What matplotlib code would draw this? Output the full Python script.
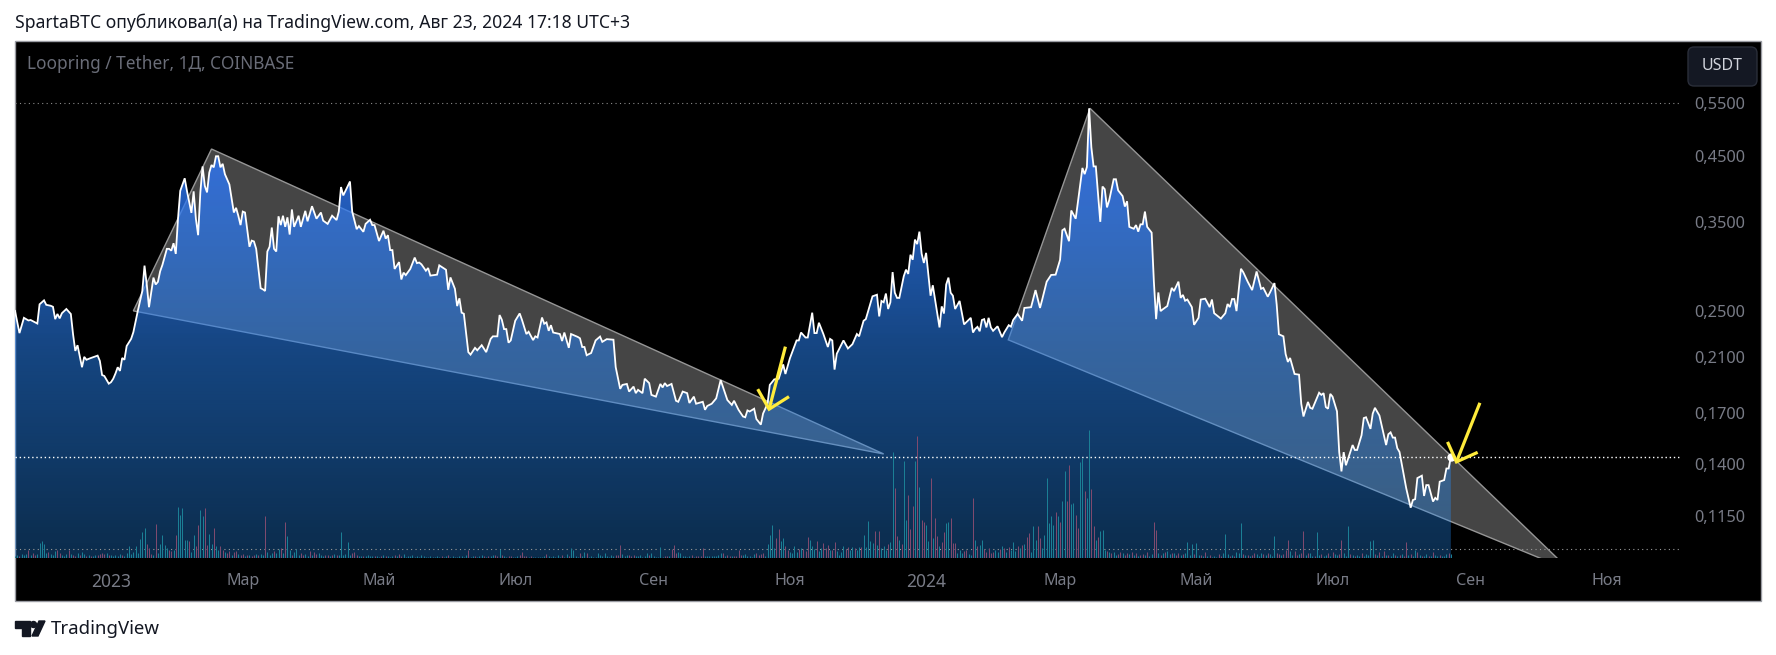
"""Loopring / Tether daily chart, TradingView style, log price scale."""
import numpy as np
import matplotlib
matplotlib.use("Agg")
import matplotlib.pyplot as plt
from matplotlib.colors import LinearSegmentedColormap
from matplotlib.patches import Rectangle, Polygon, FancyBboxPatch, Circle

W, H = 1776, 655
plt.rcParams["font.family"] = ["Noto Sans", "DejaVu Sans"]

# days counted from 2023-01-01, closes in USDT
days = [
    -43, -41, -39, -37, -36, -33, -32, -30, -29, -27, -26, -25, -24, -23, -22, -20, -18, -17, -16, -15,
    -13, -12, -11, -9, -6, -5, -4, -3, -1, 0, 1, 2, 3, 4, 5, 6, 7, 9, 10, 12,
    14, 15, 16, 17, 19, 20, 21, 22, 23, 25, 26, 27, 28, 29, 30, 31, 33, 34, 36, 37,
    38, 39, 40, 41, 42, 43, 44, 45, 46, 47, 48, 49, 50, 51, 53, 55, 56, 57, 58, 59,
    60, 62, 63, 64, 65, 67, 68, 69, 70, 71, 72, 73, 74, 75, 76, 77, 78, 79, 80, 81,
    82, 84, 85, 87, 88, 90, 92, 94, 95, 97, 99, 101, 102, 103, 104, 107, 108, 110, 111, 113,
    114, 116, 117, 118, 120, 122, 123, 124, 125, 126, 127, 129, 130, 131, 132, 134, 136, 137, 138, 139,
    141, 142, 143, 146, 147, 150, 151, 152, 154, 155, 156, 157, 158, 160, 161, 163, 164, 166, 168, 170,
    171, 173, 174, 175, 176, 177, 178, 179, 181, 183, 184, 186, 187, 189, 190, 191, 193, 194, 195, 196,
    197, 198, 201, 202, 203, 205, 206, 209, 210, 211, 212, 213, 215, 217, 219, 220, 222, 225, 226, 228,
    229, 231, 232, 234, 235, 236, 238, 239, 241, 242, 244, 246, 247, 248, 249, 251, 253, 254, 255, 256,
    258, 259, 261, 262, 265, 266, 267, 269, 271, 273, 275, 276, 278, 279, 281, 283, 284, 285, 286, 288,
    289, 291, 292, 294, 295, 297, 299, 301, 302, 304, 307, 308, 309, 311, 312, 313, 314, 315, 316, 317,
    319, 321, 322, 323, 324, 325, 328, 330, 332, 334, 335, 337, 338, 341, 343, 344, 345, 346, 347, 348,
    349, 350, 351, 352, 353, 355, 356, 357, 358, 359, 360, 361, 362, 363, 364, 365, 366, 367, 368, 369,
    371, 372, 373, 374, 375, 376, 377, 378, 380, 382, 385, 386, 387, 388, 389, 390, 391, 392, 393, 394,
    395, 397, 399, 400, 402, 403, 404, 406, 408, 409, 412, 414, 416, 417, 419, 421, 423, 425, 426, 427,
    429, 430, 432, 435, 436, 437, 438, 439, 440, 441, 443, 444, 445, 446, 447, 449, 450, 451, 453, 454,
    455, 456, 458, 459, 460, 461, 462, 463, 464, 466, 467, 468, 469, 470, 471, 473, 475, 476, 478, 479,
    480, 481, 482, 484, 485, 487, 488, 490, 492, 493, 494, 497, 499, 500, 501, 502, 503, 504, 506, 507,
    509, 511, 513, 515, 516, 518, 519, 521, 522, 523, 525, 526, 527, 528, 530, 532, 533, 534, 536, 537,
    538, 541, 542, 543, 544, 545, 546, 547, 549, 550, 551, 552, 553, 556, 557, 558, 560, 561, 562, 564,
    565, 566, 568, 571, 572, 573, 574, 575, 576, 577, 580, 582, 583, 584, 585, 587, 588, 589, 590, 592,
    593, 594, 595, 597, 598, 599, 600,
]
prices = [
    .2502, .2300, .2437, .2413, .2417, .2385, .2565, .2604, .2560, .2551, .2541, .2425, .2473, .2432, .2480, .2520, .2473, .2290, .2150, .2197,
    .2021, .2102, .2079, .2093, .2112, .2070, .1962, .1955, .1899, .1910, .1935, .1974, .2021, .1993, .2093, .2079, .2190, .2250, .2308, .2502,
    .2697, .2970, .2765, .2537, .2838, .2765, .2793, .2907, .2977, .3165, .3165, .3143, .3233, .3105, .3548, .3943, .4135, .3943, .3627, .3935,
    .3548, .3333, .3920, .4325, .4017, .3920, .4226, .4348, .4310, .4495, .4495, .4310, .4368, .4200, .4040, .3632, .3697, .3588, .3463, .3645,
    .3632, .3190, .3265, .3255, .3165, .2727, .2715, .2698, .3133, .3190, .3431, .3165, .3133, .3580, .3463, .3588, .3440, .3566, .3341, .3674,
    .3440, .3588, .3440, .3655, .3513, .3720, .3548, .3632, .3522, .3479, .3588, .3530, .3645, .4000, .3875, .4085, .3645, .3410, .3450, .3376,
    .3479, .3533, .3463, .3463, .3260, .3390, .3290, .3333, .3150, .3150, .2933, .3010, .2818, .2892, .2865, .2933, .3062, .2998, .3005, .2985,
    .2913, .2943, .2860, .2870, .2973, .2924, .2710, .2840, .2720, .2548, .2624, .2485, .2475, .2140, .2120, .2175, .2155, .2197, .2140, .2250,
    .2272, .2272, .2463, .2420, .2335, .2335, .2218, .2237, .2410, .2478, .2420, .2292, .2312, .2240, .2272, .2262, .2440, .2383, .2395, .2320,
    .2370, .2305, .2292, .2232, .2305, .2175, .2292, .2267, .2255, .2182, .2182, .2115, .2133, .2237, .2270, .2225, .2248, .2243, .2022, .1862,
    .1890, .1897, .1843, .1878, .1832, .1855, .1832, .1935, .1903, .1820, .1808, .1897, .1872, .1903, .1882, .1897, .1780, .1773, .1808, .1843,
    .1832, .1765, .1808, .1760, .1773, .1720, .1745, .1760, .1796, .1925, .1832, .1785, .1752, .1780, .1720, .1677, .1672, .1716, .1709, .1727,
    .1661, .1626, .1696, .1760, .1890, .1930, .1935, .2043, .1970, .2090, .2237, .2237, .2305, .2262, .2262, .2370, .2485, .2300, .2300, .2392,
    .2292, .2182, .2250, .2237, .2003, .2127, .2237, .2170, .2205, .2292, .2272, .2410, .2425, .2644, .2660, .2450, .2598, .2585, .2672, .2520,
    .2585, .2898, .2680, .2628, .2628, .2853, .2925, .2878, .3095, .3037, .3278, .3222, .3378, .3108, .3000, .3117, .2870, .2650, .2757, .2612,
    .2350, .2545, .2477, .2765, .2838, .2680, .2650, .2520, .2598, .2377, .2437, .2305, .2338, .2355, .2316, .2417, .2425, .2350, .2437, .2350,
    .2320, .2360, .2265, .2305, .2370, .2357, .2417, .2473, .2410, .2530, .2537, .2707, .2530, .2612, .2795, .2867, .2870, .3037, .3395, .3415,
    .3258, .3660, .3548, .4300, .4200, .4315, .5390, .4650, .4325, .4325, .3506, .4008, .3968, .3703, .3805, .4120, .4120, .3950, .3865, .3715,
    .3790, .3440, .3415, .3463, .3378, .3473, .3473, .3645, .3440, .3365, .2795, .2425, .2683, .2500, .2517, .2548, .2730, .2697, .2795, .2628,
    .2658, .2600, .2612, .2538, .2373, .2437, .2612, .2620, .2538, .2612, .2480, .2430, .2480, .2568, .2538, .2617, .2617, .2500, .2935, .2898,
    .2795, .2707, .2905, .2720, .2730, .2640, .2683, .2780, .2562, .2290, .2272, .2125, .2062, .2093, .1970, .1965, .1760, .1677, .1772, .1733,
    .1727, .1835, .1820, .1832, .1738, .1727, .1827, .1808, .1710, .1465, .1362, .1465, .1394, .1505, .1477, .1477, .1562, .1667, .1672, .1600,
    .1695, .1733, .1683, .1505, .1568, .1579, .1548, .1548, .1487, .1466, .1278, .1187, .1222, .1226, .1328, .1340, .1241, .1293, .1293, .1215,
    .1232, .1222, .1310, .1318, .1377, .1377, .1440,
]

# one value per day from day -43, negative = down day
volume = [
    2, 3, -2, 4, 3, 4, -8, 3, -5, -3, 4, 15, 17, 14, 5, -6, 4, 3, 7, -8,
    -5, 3, 2, 4, -8, 4, -3, -2, 5, -3, 6, 4, -2, 3, -2, 2, 3, -3, -4, -5,
    -4, 5, -3, 3, 2, 3, 2, 4, -3, 2, 5, 12, 4, 6, 12, 5, 19, 26, 30, -14,
    -10, -4, 3, -34, 5, 14, 23, 13, 10, -8, -7, 8, -23, 51, 43, 50, 18, 18, -17, 6,
    23, -12, -33, 48, 42, -50, -13, 24, 14, -30, 12, 8, -12, -8, 6, -5, -7, 3, -6, -7,
    4, -3, -4, 2, -3, 3, -2, -3, 4, -3, 4, 3, -42, 6, 3, 5, -7, 5, 9, -10,
    5, -36, 22, 8, -3, 6, 9, 3, -5, -3, 4, 2, -7, 3, -6, -4, 5, 3, 2, -3,
    -3, 2, -3, 4, -3, 3, 26, 3, 4, 16, 3, -5, -6, -3, 2, 2, -2, 2, 3, 2,
    2, -2, 2, 1, -2, 3, -2, 2, 1, 2, -3, 2, -4, -2, 4, 1, 2, 2, 3, 1,
    2, 1, 3, 2, 1, 1, 2, 1, 1, 2, 1, -2, 1, 2, -3, 1, 2, 1, 1, 2,
    2, 1, 3, -8, 1, 2, -2, 1, 2, 3, -2, 1, -2, 2, 3, -3, -2, 9, -3, 2,
    1, -2, -2, 1, 1, 2, -3, -6, -2, -2, 1, -2, 1, 1, 1, 1, 1, 2, -4, 2,
    1, 2, 1, 3, 1, -3, 1, 4, -2, 10, 8, 2, 1, -5, 2, 6, -5, 1, 2, 1,
    1, 5, 3, 2, 5, 2, 1, 3, 2, -3, -3, -13, 4, 2, 3, -3, -2, -3, 2, 2,
    3, 1, 2, 5, -3, 5, 2, 1, 1, 11, 1, -2, -2, 2, -9, -13, -5, 6, 5, 2,
    2, 1, 2, -3, 1, -2, -2, -2, -10, 2, 2, 2, 2, 2, 2, 3, 5, -5, 2, -3,
    -2, 2, -2, -2, -8, -3, 3, 4, 2, 2, 1, 4, -5, -3, -4, -5, 2, 14, 23, 33,
    10, -20, -29, 17, 20, -12, -8, 6, 5, 12, 6, -9, 10, -9, -7, -21, 18, 12, 9, -17,
    7, 10, -15, -10, -13, 8, -8, -16, 7, 3, 6, 12, -9, -11, 8, 11, -10, 8, 11, -11,
    23, 11, 37, 17, 15, -27, 13, -27, 10, 12, 8, -14, 16, 106, -70, -22, 18, -14, 97, 38,
    -63, -29, -52, 97, -122, 71, -38, -36, 33, 17, -80, 20, -40, -22, 12, -16, -26, 35, 36, -40,
    -15, -15, 5, 8, 5, -7, -8, 4, 3, -60, 18, -12, 13, 18, -9, -6, -10, -5, -6, 8,
    6, -9, 12, -10, 6, -11, 8, 16, 7, -12, 10, -13, 14, -21, -25, 6, 32, 18, -32, -20,
    10, 23, 80, 35, 42, 33, -46, 42, -36, 57, 87, -57, -93, 54, 55, -43, -30, 96, 100, -67,
    60, 128, -69, -32, 18, -21, 27, 28, 8, -7, 6, -5, 6, 3, -4, -6, 5, -3, -5, 4,
    -6, 3, -5, 2, -3, -4, 3, -6, 2, 4, -36, -28, 5, -3, 5, -6, 7, 4, -5, 5,
    -3, -5, 3, -4, 5, 16, 3, 14, -4, 15, 3, -3, 2, -6, 2, -3, 1, 2, 1, -4,
    -2, 5, 24, 4, -2, 3, -2, 6, 5, 35, -4, 3, -3, 2, -3, -5, 4, 2, 5, -4,
    3, -5, 4, 2, 22, -5, -4, 3, -4, -8, -18, 7, 3, -7, -3, 4, -5, -27, 3, -5,
    5, 2, -2, 26, 3, -4, 2, 3, -5, 2, -6, 4, 3, -4, -18, 5, 2, 32, -4, 3,
    -2, 3, 2, -5, 2, 4, 3, 17, 18, -4, 3, -6, 2, -7, 3, -3, 2, 5, -3, 2,
    -3, 4, -2, -16, 3, -4, 2, 8, -6, 3, -2, 2, 4, -2, 2, -6, 3, 2, -3, 2,
    2, 4, -5, 4,
]
first_volume_day = -43

# drawn triangles
tri1_days = [10, 45, 346]
tri1_prices = [.2502, .4620, .1455]
tri2_days = [401.8, 438.4, 653.3]
tri2_prices = [.2242, .5390, .0936]

# yellow arrows: tail, tip, head left, head right
arrow1_days = [302, 294.7, 289.6, 303.6]
arrow1_prices = [.2185, .1724, .1860, .1808]
arrow2_days = [613, 602.5, 598.5, 612]
arrow2_prices = [.1766, .1412, .1523, .1464]

high_price = .5503
last_price = .1440
low_price = .1015

price_ticks = [.55, .45, .35, .25, .21, .17, .14, .115]
price_labels = ["0,5500", "0,4500", "0,3500", "0,2500", "0,2100", "0,1700", "0,1400", "0,1150"]
date_ticks = [0, 59, 120, 181, 243, 304, 365, 425, 486, 547, 609, 670]
date_labels = ["2023", "Мар", "Май", "Июл", "Сен", "Ноя", "2024", "Мар", "Май", "Июл", "Сен", "Ноя"]


def pane_rect(x0, y0, x1, y1):
    return [x0 / W, 1 - y1 / H, (x1 - x0) / W, (y1 - y0) / H]


def draw_arrow(ax, xs, ys):
    ax.plot([xs[0], xs[1]], [ys[0], ys[1]], color="#ffeb3b", lw=2.3, solid_capstyle="butt", zorder=6)
    ax.plot([xs[2], xs[1], xs[3]], [ys[2], ys[1], ys[3]], color="#ffeb3b", lw=2.3,
            solid_capstyle="butt", solid_joinstyle="miter", zorder=6)


fig = plt.figure(figsize=(W / 100, H / 100), dpi=100, facecolor="white")

# page furniture in pixel coordinates
bg = fig.add_axes([0, 0, 1, 1], zorder=0)
bg.set_xlim(0, W)
bg.set_ylim(H, 0)
bg.axis("off")
bg.add_patch(Rectangle((15, 41), 1746, 560, facecolor="black", edgecolor="#9a9ca3", lw=1))
bg.text(15, 22.5, "SpartaBTC опубликовал(а) на TradingView.com, Авг 23, 2024 17:18 UTC+3",
        fontsize=12.65, color="#131722", va="center", ha="left")
bg.text(27, 64, "Loopring / Tether, 1Д, COINBASE", fontsize=12.4, color="#6a6d78", va="center")
bg.add_patch(FancyBboxPatch((1691, 50), 63, 33, boxstyle="round,pad=3,rounding_size=6",
                            facecolor="#141823", edgecolor="#2a2e39", lw=1))
bg.text(1722, 66, "USDT", fontsize=11.5, color="#d1d4dc", ha="center", va="center", fontweight="medium")

# logo
bg.add_patch(Polygon([(15, 621), (29.5, 621), (29.5, 636), (22, 636), (22, 628), (15, 628)], color="#131722"))
bg.add_patch(Circle((33.5, 624.5), 3, color="#131722"))
bg.add_patch(Polygon([(39, 621), (45, 621), (38, 636), (32, 636)], color="#131722"))
bg.text(51, 629, "TradingView", fontsize=13.4, color="#131722", va="center")

# main pane
ax = fig.add_axes(pane_rect(15, 41, 1682, 558), zorder=2, facecolor="none")
ax.set_yscale("log")
ax.set_xlim(-43, 703.5)
ax.set_ylim(.0981, .6956)
ax.set_autoscale_on(False)
for spine in ax.spines.values():
    spine.set_visible(False)

ax.set_xticks(date_ticks)
ax.set_xticklabels(date_labels)
ax.set_yticks(price_ticks)
ax.set_yticklabels(price_labels)
ax.minorticks_off()
ax.yaxis.tick_right()
ax.tick_params(axis="x", length=0, pad=11, labelsize=11.6, labelcolor="#787b86")
ax.tick_params(axis="y", length=0, pad=9, labelsize=11.8, labelcolor="#787b86")
for lab in ax.get_xticklabels():
    if lab.get_text() in ("2023", "2024"):
        lab.set_fontweight("bold")
        lab.set_fontsize(12.5)

for tri_x, tri_y in [(tri1_days, tri1_prices), (tri2_days, tri2_prices)]:
    ax.add_patch(Polygon(np.column_stack([tri_x, tri_y]), closed=True, facecolor="#454545",
                         edgecolor="#969696", lw=1.0, zorder=1))

# area gradient, clipped under the price line
area_cmap = LinearSegmentedColormap.from_list("area", [
    (0.00, (50 / 255, 117 / 255, 250 / 255, .92)),
    (0.13, (50 / 255, 117 / 255, 250 / 255, .90)),
    (0.60, (40 / 255, 127 / 255, 236 / 255, .55)),
    (1.00, (38 / 255, 147 / 255, 255 / 255, .30)),
], N=512)
grad = ax.imshow(np.linspace(0, 1, 512).reshape(-1, 1), cmap=area_cmap, aspect="auto",
                 extent=(0, 1, 0, 1), transform=ax.transAxes, zorder=2, interpolation="bilinear")
outline = ax.fill_between(days, prices, .0981, facecolor="none", edgecolor="none")
grad.set_clip_path(outline.get_paths()[0], transform=ax.transData)

ax.plot(days, prices, color="white", lw=1.3, solid_joinstyle="miter", zorder=3)

ax.axhline(high_price, color="#8a8a8a", lw=0.8, ls=(0, (1, 3)), zorder=4)
ax.axhline(last_price, color="white", lw=1, ls=(0, (1, 2)), zorder=4)
ax.axhline(low_price, color="#9a9a9a", lw=0.8, ls=(0, (1, 3)), zorder=4)
ax.plot(days[-1], prices[-1], "o", color="white", ms=5, zorder=5)

draw_arrow(ax, arrow1_days, arrow1_prices)
draw_arrow(ax, arrow2_days, arrow2_prices)

# volume pane on top, same width
vol = fig.add_axes(pane_rect(15, 41, 1682, 558), zorder=3, facecolor="none")
vol.set_xlim(-43, 703.5)
vol.set_ylim(0, 517)
vol.axis("off")
vol_days = np.arange(first_volume_day, first_volume_day + len(volume))
vol_vals = np.array(volume)
vol.vlines(vol_days[vol_vals > 0], 0, vol_vals[vol_vals > 0], color="#1b7f95", lw=0.72)
vol.vlines(vol_days[vol_vals < 0], 0, -vol_vals[vol_vals < 0], color="#7f4a6e", lw=0.72)

fig.savefig("out.png", dpi=100)
